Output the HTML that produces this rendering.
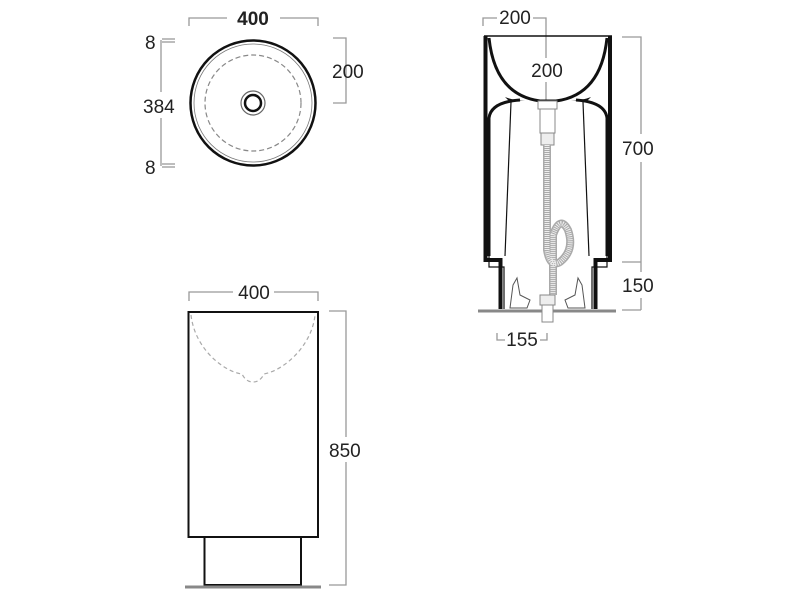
<!DOCTYPE html>
<html><head><style>body{margin:0;background:#fff}svg{display:block}text{font-family:"Liberation Sans",sans-serif;fill:#222}</style></head>
<body>
<svg width="800" height="600" viewBox="0 0 800 600" xmlns="http://www.w3.org/2000/svg">
<g stroke="#999" stroke-width="1.3" fill="none">
<polyline points="189,26 189,18 227,18"/><polyline points="280,18 318,18 318,26"/>
<line x1="162" y1="39" x2="175" y2="39"/><line x1="162" y1="42" x2="175" y2="42"/>
<line x1="162" y1="164" x2="175" y2="164"/><line x1="162" y1="167" x2="175" y2="167"/>
<line x1="161" y1="40" x2="161" y2="92"/><line x1="161" y1="118" x2="161" y2="166"/>
<polyline points="333,38 346,38 346,103 333,103"/>
<polyline points="189,301 189,292 233,292"/><polyline points="274,292 318,292 318,301"/>
<polyline points="329,311 346,311 346,437"/><polyline points="346,462 346,585 329,585"/>
<polyline points="483,26 483,18 497,18"/><polyline points="533,18 546,18 546,26"/>
<line x1="546" y1="26" x2="546" y2="58"/><line x1="546" y1="82" x2="546" y2="103"/>
<polyline points="622,37 641,37 641,134"/><line x1="641" y1="162" x2="641" y2="272"/>
<line x1="622" y1="262" x2="641" y2="262"/><line x1="641" y1="298" x2="641" y2="310"/><line x1="622" y1="310" x2="641" y2="310"/>
<polyline points="497,333 497,340 505,340"/><polyline points="540,340 547,340 547,333"/>
</g>
<circle cx="253" cy="103" r="62.5" fill="none" stroke="#111" stroke-width="2.5"/>
<circle cx="253" cy="103" r="59" fill="none" stroke="#777" stroke-width="0.8"/>
<circle cx="253" cy="103" r="48" fill="none" stroke="#888" stroke-width="1.2" stroke-dasharray="5,3"/>
<circle cx="253" cy="103" r="12" fill="none" stroke="#666" stroke-width="1.2"/>
<circle cx="253" cy="103" r="8" fill="none" stroke="#111" stroke-width="2.5"/>
<text x="253" y="25" font-size="19" font-weight="bold" text-anchor="middle">400</text>
<text x="145" y="49" font-size="19">8</text>
<text x="143" y="113" font-size="19">384</text>
<text x="145" y="174" font-size="19">8</text>
<text x="332" y="78" font-size="19">200</text>
<rect x="188.5" y="312" width="129.5" height="225" fill="none" stroke="#111" stroke-width="2"/>
<rect x="204.5" y="537" width="96.5" height="48" fill="none" stroke="#111" stroke-width="2"/>
<line x1="185" y1="587" x2="321" y2="587" stroke="#888" stroke-width="3"/>
<path d="M191,315 C195,350 225,372 242,374 Q246,382 253,382 Q260,382 264,374 C285,370 312,345 315,315" fill="none" stroke="#aaa" stroke-width="1.2" stroke-dasharray="4,3"/>
<text x="254" y="299" font-size="19" text-anchor="middle">400</text>
<text x="329" y="457" font-size="19">850</text>
<!-- side view -->
<line x1="478" y1="311" x2="616" y2="311" stroke="#888" stroke-width="3"/>
<line x1="484" y1="36" x2="612" y2="36" stroke="#111" stroke-width="1.5"/>
<polyline points="485.5,36 485.5,260 500.5,260 500.5,309" fill="none" stroke="#111" stroke-width="4"/>
<polyline points="610,36 610,260 595.5,260 595.5,309" fill="none" stroke="#111" stroke-width="4"/>
<polyline points="489,256 489,267 504,267 504,309" fill="none" stroke="#111" stroke-width="1.2"/>
<polyline points="607,256 607,267 592,267 592,309" fill="none" stroke="#111" stroke-width="1.2"/>
<path d="M489,38 Q495,95 540,101 L556,101 Q601,95 607,38" fill="none" stroke="#111" stroke-width="3"/>
<path d="M489,256 L489,118 Q491,102 520,100" fill="none" stroke="#111" stroke-width="3"/>
<path d="M607,256 L607,118 Q605,102 576,100" fill="none" stroke="#111" stroke-width="3"/>
<path d="M505,97 Q515,101 525,100 L510,102 Z" fill="#111"/>
<path d="M591,97 Q581,101 571,100 L586,102 Z" fill="#111"/>
<line x1="511" y1="102" x2="505" y2="256" stroke="#111" stroke-width="1.2"/>
<line x1="583" y1="102" x2="589" y2="256" stroke="#111" stroke-width="1.2"/>
<rect x="538" y="101" width="19" height="8" fill="#fff" stroke="#888"/>
<rect x="540" y="109" width="15" height="24" fill="#fff" stroke="#888"/>
<rect x="541" y="133" width="13" height="12" fill="#eee" stroke="#888"/>
<path d="M547,145 L547,250 Q550,268 560,262 Q575,250 568,230 Q560,215 553,235 L553,295" fill="none" stroke="#aaa" stroke-width="8"/>
<path d="M547,145 L547,250 Q550,268 560,262 Q575,250 568,230 Q560,215 553,235 L553,295" fill="none" stroke="#eee" stroke-width="5" stroke-dasharray="1,1"/>
<rect x="540" y="295" width="15" height="10" fill="#eee" stroke="#888"/>
<rect x="542" y="305" width="11" height="17" fill="#fff" stroke="#888"/>
<path d="M510,308 L513,285 L517,278 L520,295 L530,300 L527,308 Z" fill="#fff" stroke="#555"/>
<path d="M585,308 L582,285 L578,278 L575,295 L565,300 L568,308 Z" fill="#fff" stroke="#555"/>
<text x="515" y="24" font-size="19" text-anchor="middle">200</text>
<text x="547" y="77" font-size="19" text-anchor="middle">200</text>
<text x="622" y="155" font-size="19">700</text>
<text x="622" y="292" font-size="19">150</text>
<text x="522" y="346" font-size="19" text-anchor="middle">155</text>
</svg>
</body></html>
